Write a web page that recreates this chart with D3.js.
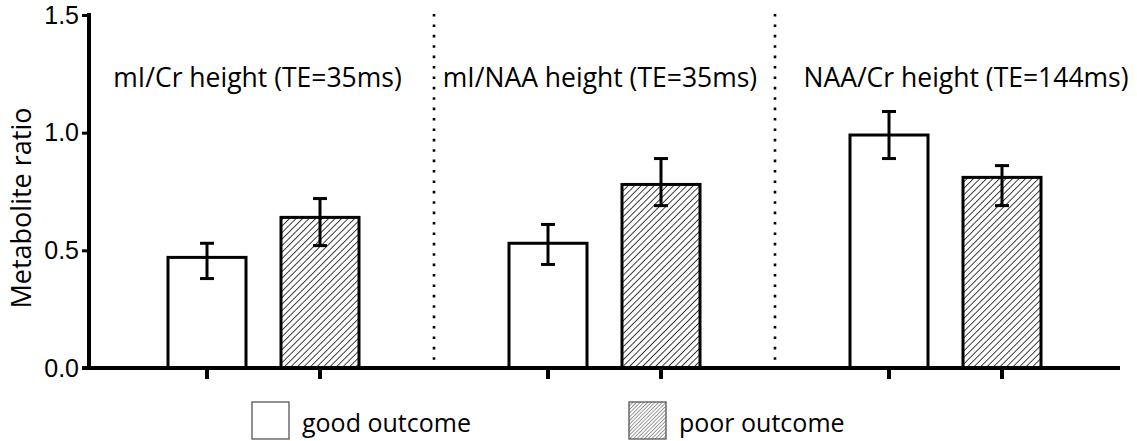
<!DOCTYPE html>
<html>
<head>
<meta charset="utf-8">
<script src="https://cdn.jsdelivr.net/npm/d3@7"></script>
<style>
  body { margin: 0; background: #fff; }
  svg { display: block; font-family: "Open Sans", sans-serif; }
</style>
</head>
<body>
<div class="chart"></div>
<script>
  // chart data
  const groups = ["mI/Cr height (TE=35ms)", "mI/NAA height (TE=35ms)", "NAA/Cr height (TE=144ms)"];
  const outcomes = ["good", "poor"];
  const legendLabels = ["good outcome", "poor outcome"];
  const goodValues = [0.47, 0.53, 0.99];
  const goodErrLow = [0.38, 0.44, 0.89];
  const goodErrHigh = [0.53, 0.61, 1.09];
  const poorValues = [0.64, 0.78, 0.81];
  const poorErrLow = [0.52, 0.69, 0.69];
  const poorErrHigh = [0.72, 0.89, 0.86];
  const yTicks = [0, 0.5, 1.0, 1.5];

  const w = 1137;
  const h = 441;

  const svg = d3.select(".chart")
    .append("svg")
    .attr("width", w)
    .attr("height", h);

  /* hatch patterns */
  const defs = svg.append("defs");
  defs.append("pattern")
    .attr("id", "hatch")
    .attr("patternUnits", "userSpaceOnUse")
    .attr("width", 4.6)
    .attr("height", 4.6)
    .attr("patternTransform", "rotate(45)")
    .append("line")
    .attr("x1", 0).attr("y1", 0)
    .attr("x2", 0).attr("y2", 4.6)
    .attr("stroke", "#000")
    .attr("stroke-width", 1.5);

  defs.append("pattern")
    .attr("id", "hatchSmall")
    .attr("patternUnits", "userSpaceOnUse")
    .attr("width", 2.6)
    .attr("height", 2.6)
    .attr("patternTransform", "rotate(45)")
    .append("line")
    .attr("x1", 0).attr("y1", 0)
    .attr("x2", 0).attr("y2", 2.6)
    .attr("stroke", "#222")
    .attr("stroke-width", 0.9);

  /* scales */
  const yScale = d3.scaleLinear()
    .domain([0, 1.5])
    .range([368, 15]);

  const xGroup = d3.scaleBand()
    .domain(groups)
    .range([93, 1116])
    .padding(0);

  const xInner = d3.scalePoint()
    .domain(outcomes)
    .range([114, 227]);

  const barW = 78;

  const rows = [];
  groups.forEach((g, i) => {
    rows.push({ group: g, outcome: "good", value: goodValues[i], lo: goodErrLow[i], hi: goodErrHigh[i] });
    rows.push({ group: g, outcome: "poor", value: poorValues[i], lo: poorErrLow[i], hi: poorErrHigh[i] });
  });
  const cx = (d) => xGroup(d.group) + xInner(d.outcome);

  /* dotted separators */
  svg.selectAll(".sep")
    .data(groups.slice(1))
    .enter()
    .append("line")
    .attr("x1", (d) => xGroup(d))
    .attr("x2", (d) => xGroup(d))
    .attr("y1", 14)
    .attr("y2", yScale(0))
    .attr("stroke", "#000")
    .attr("stroke-width", 2.6)
    .attr("stroke-dasharray", "2.6,7.8");

  /* group labels (not exactly centred in the original) */
  const labelShift = [-6, -4.5, 20.5];
  svg.selectAll(".glabel")
    .data(groups)
    .enter()
    .append("text")
    .attr("x", (d, i) => xGroup(d) + xGroup.bandwidth() / 2 + labelShift[i])
    .attr("y", 87)
    .attr("text-anchor", "middle")
    .attr("font-size", "26.5px")
    .attr("fill", "#000")
    .text((d) => d);

  /* bars */
  svg.selectAll(".bar")
    .data(rows)
    .enter()
    .append("rect")
    .attr("x", (d) => cx(d) - barW / 2)
    .attr("y", (d) => yScale(d.value))
    .attr("width", barW)
    .attr("height", (d) => yScale(0) - yScale(d.value))
    .attr("fill", (d) => d.outcome === "poor" ? "url(#hatch)" : "#fff")
    .attr("stroke", "#000")
    .attr("stroke-width", 3);

  /* error bars */
  const err = svg.selectAll(".err")
    .data(rows)
    .enter()
    .append("g")
    .attr("stroke", "#000")
    .attr("stroke-width", 3);
  err.append("line")
    .attr("x1", cx).attr("x2", cx)
    .attr("y1", (d) => yScale(d.lo))
    .attr("y2", (d) => yScale(d.hi));
  err.append("line")
    .attr("x1", (d) => cx(d) - 7).attr("x2", (d) => cx(d) + 7)
    .attr("y1", (d) => yScale(d.hi)).attr("y2", (d) => yScale(d.hi));
  err.append("line")
    .attr("x1", (d) => cx(d) - 7).attr("x2", (d) => cx(d) + 7)
    .attr("y1", (d) => yScale(d.lo)).attr("y2", (d) => yScale(d.lo));

  /* y axis */
  const yAxis = d3.axisLeft(yScale)
    .tickValues(yTicks)
    .tickFormat(d3.format(".1f"))
    .tickSize(7)
    .tickPadding(3);
  const gy = svg.append("g")
    .attr("transform", "translate(89,0)")
    .attr("font-size", 25)
    .attr("font-family", "Open Sans, sans-serif")
    .call(yAxis);
  gy.select(".domain").attr("stroke-width", 4).attr("d", "M0," + (yScale(1.5) - 2) + "V" + (yScale(0) + 2));
  gy.selectAll(".tick line").attr("stroke-width", 3);
  gy.selectAll(".tick text")
    .style("font-size", "25px")
    .attr("fill", "#000");

  /* x axis */
  svg.append("line")
    .attr("x1", 82).attr("x2", 1120)
    .attr("y1", yScale(0)).attr("y2", yScale(0))
    .attr("stroke", "#000")
    .attr("stroke-width", 4);
  svg.selectAll(".xtick")
    .data(rows)
    .enter()
    .append("line")
    .attr("x1", cx).attr("x2", cx)
    .attr("y1", yScale(0)).attr("y2", yScale(0) + 11)
    .attr("stroke", "#000")
    .attr("stroke-width", 4);

  /* y axis title */
  svg.append("text")
    .attr("transform", "translate(31," + 208 + ") rotate(-90)")
    .attr("text-anchor", "middle")
    .attr("font-size", "27px")
    .attr("fill", "#000")
    .text("Metabolite ratio");

  /* legend */
  const legendX = [252, 629];
  const legend = svg.selectAll(".legend")
    .data(legendLabels)
    .enter()
    .append("g")
    .attr("transform", (d, i) => "translate(" + legendX[i] + ",402)");
  legend.append("rect")
    .attr("width", 37)
    .attr("height", 37)
    .attr("fill", (d, i) => i === 1 ? "url(#hatchSmall)" : "#fff")
    .attr("stroke", "#555")
    .attr("stroke-width", 1.3);
  legend.append("text")
    .attr("x", 50)
    .attr("y", 30)
    .attr("font-size", "25px")
    .attr("fill", "#000")
    .text((d) => d);
</script>
</body>
</html>
